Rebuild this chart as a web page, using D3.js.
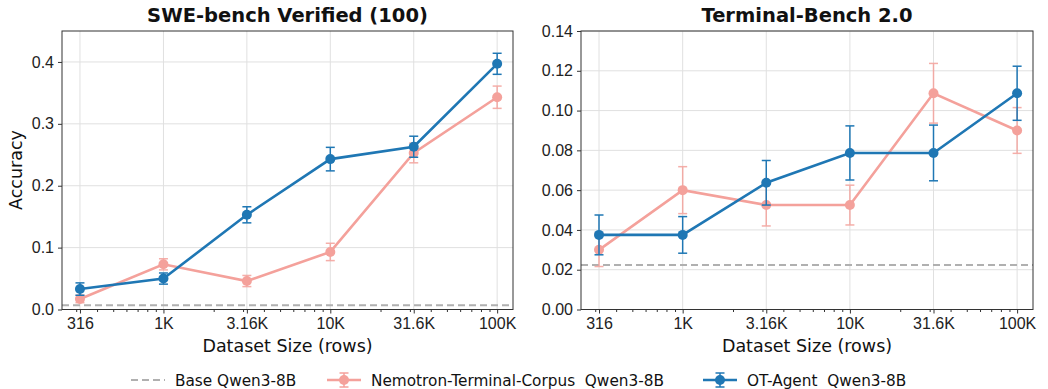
<!DOCTYPE html>
<html lang="en">
<head>
<meta charset="UTF-8">
<title>Dataset size scaling</title>
<script src="https://cdn.jsdelivr.net/npm/d3@7"></script>
<style>
  body { margin: 0; background: #fff; }
  svg { font-family: "DejaVu Sans", sans-serif; }
  .grid line { stroke: #e0e0e0; stroke-width: 1; }
  .axis text { font-size: 16px; fill: #222; }
  .axis path, .axis line { stroke: #333; }
</style>
</head>
<body>
<svg id="chart" width="1048" height="389"></svg>
<script>
// dataset sizes (rows) and their tick labels
var sizes = [316, 1000, 3162, 10000, 31623, 100000];
var sizeLabels = ["316", "1K", "3.16K", "10K", "31.6K", "100K"];

// SWE-bench Verified (100)
var sweTicks = [0.0, 0.1, 0.2, 0.3, 0.4];
var sweBase = 0.007;
var sweOT = [0.033, 0.050, 0.153, 0.243, 0.263, 0.397];
var sweOTErr = [0.010, 0.009, 0.013, 0.019, 0.017, 0.017];
var sweNemo = [0.017, 0.073, 0.046, 0.093, 0.253, 0.343];
var sweNemoErr = [0.006, 0.009, 0.009, 0.014, 0.016, 0.018];

// Terminal-Bench 2.0
var tbTicks = [0.00, 0.02, 0.04, 0.06, 0.08, 0.10, 0.12, 0.14];
var tbBase = 0.0224;
var tbOT = [0.0375, 0.0375, 0.0637, 0.0787, 0.0787, 0.1087];
var tbOTErr = [0.0100, 0.0092, 0.0112, 0.0136, 0.0140, 0.0136];
var tbNemo = [0.0300, 0.0600, 0.0525, 0.0525, 0.1087, 0.0900];
var tbNemoErr = [0.0084, 0.0118, 0.0105, 0.0100, 0.0150, 0.0115];

var blue = "#1f77b4";
var pink = "#f4a19b";
var baseGrey = "#b0b0b0";

var svg = d3.select("#chart");

// minor log ticks like matplotlib
var minorTicks = [];
[100, 1000, 10000].forEach(function(p) {
  for (var k = 2; k <= 9; k++) minorTicks.push(k * p);
});

function errorBar(g, cx, y1, y2, color) {
  g.append("line").attr("x1", cx).attr("x2", cx).attr("y1", y1).attr("y2", y2);
  g.append("line").attr("x1", cx - 4.5).attr("x2", cx + 4.5).attr("y1", y1).attr("y2", y1);
  g.append("line").attr("x1", cx - 4.5).attr("x2", cx + 4.5).attr("y1", y2).attr("y2", y2);
}

function panel(opts) {
  var g = svg.append("g");
  var x = d3.scaleLog().domain([Math.pow(10, 2.392), Math.pow(10, 5.095)]).range([opts.left, opts.right]);
  var y = d3.scaleLinear().domain(opts.yDomain).range([opts.bottom, opts.top]);

  // grid
  var grid = g.append("g").attr("class", "grid");
  grid.selectAll(".gx").data(sizes).enter().append("line")
    .attr("x1", function(d) { return x(d); }).attr("x2", function(d) { return x(d); })
    .attr("y1", opts.top).attr("y2", opts.bottom);
  grid.selectAll(".gy").data(opts.ticks).enter().append("line")
    .attr("y1", function(d) { return y(d); }).attr("y2", function(d) { return y(d); })
    .attr("x1", opts.left).attr("x2", opts.right);

  // baseline
  g.append("line")
    .attr("x1", opts.left).attr("x2", opts.right)
    .attr("y1", y(opts.base)).attr("y2", y(opts.base))
    .attr("stroke", baseGrey).attr("stroke-width", 2).attr("stroke-dasharray", "7,4");

  var series = [
    {vals: opts.nemo, err: opts.nemoErr, color: pink, errOpacity: 0.85},
    {vals: opts.ot, err: opts.otErr, color: blue, errOpacity: 1}
  ];
  series.forEach(function(s) {
    var pts = sizes.map(function(d, i) { return {x: d, y: s.vals[i], e: s.err[i]}; });
    var eb = g.append("g").attr("stroke", s.color).attr("stroke-width", 1.5).attr("opacity", s.errOpacity);
    pts.forEach(function(p) {
      errorBar(eb, x(p.x), y(p.y - p.e), y(p.y + p.e));
    });
    g.append("path").datum(pts)
      .attr("fill", "none").attr("stroke", s.color).attr("stroke-width", 2.6)
      .attr("d", d3.line().x(function(d) { return x(d.x); }).y(function(d) { return y(d.y); }));
    g.selectAll(null).data(pts).enter().append("circle")
      .attr("cx", function(d) { return x(d.x); }).attr("cy", function(d) { return y(d.y); })
      .attr("r", 5).attr("fill", s.color);
  });

  // frame
  g.append("rect").attr("x", opts.left).attr("y", opts.top)
    .attr("width", opts.right - opts.left).attr("height", opts.bottom - opts.top)
    .attr("fill", "none").attr("stroke", "#333").attr("stroke-width", 1);

  // axes
  var xAxis = g.append("g").attr("class", "axis").attr("transform", "translate(0," + opts.bottom + ")")
    .call(d3.axisBottom(x).tickValues(sizes).tickFormat(function(d, i) { return sizeLabels[i]; }).tickSize(4).tickPadding(4));
  xAxis.select(".domain").remove();
  g.append("g").attr("class", "axis").attr("transform", "translate(0," + opts.bottom + ")")
    .call(d3.axisBottom(x).tickValues(minorTicks.filter(function(d) { return x(d) >= opts.left && x(d) <= opts.right; }))
      .tickFormat("").tickSize(2.5))
    .select(".domain").remove();
  var yAxis = g.append("g").attr("class", "axis").attr("transform", "translate(" + opts.left + ",0)")
    .call(d3.axisLeft(y).tickValues(opts.ticks).tickFormat(d3.format(opts.fmt)).tickSize(4).tickPadding(4));
  yAxis.select(".domain").remove();

  g.append("text").attr("x", (opts.left + opts.right) / 2).attr("y", 22)
    .attr("text-anchor", "middle").attr("font-size", 19.5).attr("font-weight", "bold").attr("fill", "#111")
    .text(opts.title);
  g.append("text").attr("x", (opts.left + opts.right) / 2).attr("y", 352)
    .attr("text-anchor", "middle").attr("font-size", 17.5).attr("fill", "#111")
    .text("Dataset Size (rows)");
  return g;
}

panel({left: 62, right: 513, top: 31, bottom: 309.5, yDomain: [0, 0.45], ticks: sweTicks, fmt: ".1f",
  base: sweBase, ot: sweOT, otErr: sweOTErr, nemo: sweNemo, nemoErr: sweNemoErr, title: "SWE-bench Verified (100)"});
panel({left: 581, right: 1033, top: 31, bottom: 309.5, yDomain: [0, 0.14], ticks: tbTicks, fmt: ".2f",
  base: tbBase, ot: tbOT, otErr: tbOTErr, nemo: tbNemo, nemoErr: tbNemoErr, title: "Terminal-Bench 2.0"});

svg.append("text").attr("transform", "translate(22,170) rotate(-90)")
  .attr("text-anchor", "middle").attr("font-size", 17.5).attr("fill", "#111").text("Accuracy");

// legend
var legendItems = [
  {label: "Base Qwen3-8B", color: baseGrey, dashed: true, x0: 131},
  {label: "Nemotron-Terminal-Corpus  Qwen3-8B", color: pink, dashed: false, x0: 327},
  {label: "OT-Agent  Qwen3-8B", color: blue, dashed: false, x0: 703}
];
var ly = 380;
legendItems.forEach(function(it) {
  var lg = svg.append("g");
  lg.append("line").attr("x1", it.x0).attr("x2", it.x0 + 34).attr("y1", ly).attr("y2", ly)
    .attr("stroke", it.color).attr("stroke-width", it.dashed ? 2 : 2.6)
    .attr("stroke-dasharray", it.dashed ? "7,4" : null);
  if (!it.dashed) {
    var eg = lg.append("g").attr("stroke", it.color).attr("stroke-width", 1.5);
    errorBar(eg, it.x0 + 17, ly - 7, ly + 7);
    lg.append("circle").attr("cx", it.x0 + 17).attr("cy", ly).attr("r", 5).attr("fill", it.color);
  }
  lg.append("text").attr("x", it.x0 + 44).attr("y", ly + 5.5).attr("font-size", 15.3).attr("fill", "#111")
    .style("white-space", "pre").text(it.label);
});
</script>
</body>
</html>
